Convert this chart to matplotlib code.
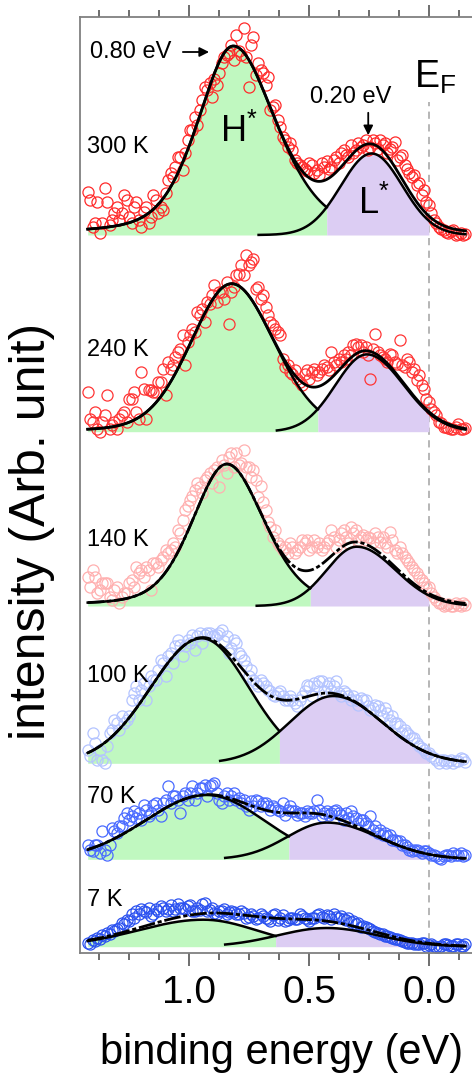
import numpy as np
import matplotlib
matplotlib.use('Agg')
import matplotlib.pyplot as plt
from matplotlib.ticker import MultipleLocator, FormatStrFormatter

plt.rcParams['font.family'] = ['Liberation Sans', 'DejaVu Sans']
plt.rcParams['mathtext.fontset'] = 'custom'
plt.rcParams['mathtext.rm'] = 'Liberation Sans'
plt.rcParams['mathtext.it'] = 'Liberation Sans'

#%% data (heights above each spectrum's own baseline)
temps = ['300 K', '240 K', '140 K', '100 K', '70 K', '7 K']
marker_colors = ['#ff2a2a', '#ff3535', '#ffb0b0', '#b4c4ff', '#4a6bff', '#2c52f0']
baseline = [718, 521.3, 347, 189.7, 93.7, 6.3]  #vertical offset of each spectrum
label_y = [806, 603, 413, 277, 156, 53]

energy = np.linspace(1.42, -0.14, 78)  #binding energy of the measured points, scan a
energy_b = np.linspace(1.41, -0.15, 78)  #scan b

a_300 = [43, 8, 33, 12, 33, 15, 28, 22, 35, 12, 33, 8, 28, 18, 35, 28, 42, 62, 68, 78,
         82, 105, 118, 125, 148, 152, 156, 162, 178, 182, 175, 184, 207, 148, 198, 172, 162, 158, 128, 115,
         98, 88, 85, 72, 68, 64, 70, 65, 72, 74, 68, 78, 82, 80, 90, 85, 88, 95, 88, 92,
         95, 92, 86, 93, 78, 70, 62, 60, 52, 45, 30, 15, 8, 5, 2, 5, 1, 0]
b_300 = [35, 12, 2, 47, 10, 22, 15, 40, 18, 28, 15, 23, 12, 40, 22, 25, 55, 58, 78, 65,
         95, 105, 110, 135, 145, 138, 150, 172, 180, 190, 200, 180, 178, 190, 160, 165, 150, 125, 130, 108,
         95, 92, 75, 70, 66, 72, 62, 60, 68, 66, 75, 72, 85, 78, 82, 92, 90, 85, 95, 86,
         90, 82, 88, 75, 80, 66, 58, 50, 40, 33, 22, 12, 6, 3, 4, 0, 2, 1]
a_240 = [40, 10, 3, 10, 37, 7, 3, 17, 10, 33, 20, 60, 13, 42, 40, 50, 37, 63, 75, 83,
         67, 97, 100, 117, 110, 128, 147, 140, 133, 108, 145, 158, 157, 167, 173, 145, 137, 117, 107, 100,
         73, 67, 58, 53, 47, 62, 60, 57, 63, 65, 80, 67, 70, 73, 77, 88, 87, 85, 53, 98,
         77, 73, 78, 70, 92, 65, 70, 63, 57, 43, 30, 20, 10, 5, 4, 3, 8, 3]
b_240 = [13, 20, 0, 17, 3, 10, 13, 20, 33, 40, 13, 43, 42, 40, 50, 63, 70, 67, 80, 97,
         90, 103, 120, 123, 130, 137, 130, 140, 150, 140, 157, 167, 177, 170, 143, 133, 125, 110, 103, 97,
         65, 60, 62, 50, 58, 53, 63, 60, 67, 62, 70, 73, 77, 80, 87, 85, 80, 77, 83, 80,
         75, 70, 77, 68, 67, 73, 60, 52, 47, 33, 23, 17, 9, 5, 3, 5, 3, 4]
a_140 = [29, 36, 13, 23, 23, 6, 19, 9, 13, 26, 39, 36, 39, 16, 43, 46, 56, 56, 59, 73,
         96, 106, 116, 119, 126, 133, 136, 119, 141, 149, 139, 141, 156, 139, 136, 109, 104, 84, 69, 63,
         56, 53, 59, 56, 66, 66, 59, 59, 56, 63, 76, 59, 73, 69, 79, 76, 69, 66, 68, 73,
         64, 63, 74, 56, 59, 49, 43, 36, 29, 23, 19, 9, 3, 0, 2, 0, 1, 3]
b_140 = [19, 29, 16, 23, 9, 16, 3, 13, 23, 19, 33, 29, 36, 43, 39, 49, 53, 63, 76, 86,
         100, 110, 123, 113, 129, 123, 139, 146, 133, 153, 153, 143, 139, 129, 126, 120, 96, 79, 76, 60,
         59, 63, 53, 59, 63, 56, 66, 63, 59, 66, 69, 66, 76, 63, 73, 66, 71, 69, 64, 69,
         69, 59, 66, 53, 53, 46, 39, 33, 26, 19, 13, 6, 3, 1, 0, 3, 0, 1]
a_100 = [13, 30, 3, 3, 17, 33, 40, 47, 43, 63, 77, 73, 63, 87, 83, 103, 87, 110, 117, 118,
         117, 120, 113, 130, 128, 130, 127, 130, 122, 110, 123, 110, 103, 87, 83, 77, 80, 73, 68, 70,
         67, 63, 63, 57, 67, 78, 67, 77, 82, 77, 72, 82, 67, 70, 63, 63, 65, 63, 53, 58,
         53, 55, 43, 40, 37, 33, 28, 25, 17, 13, 10, 5, 0, 3, 2, 0, 2, 4]
b_100 = [7, 20, 13, 0, 30, 43, 33, 40, 47, 70, 63, 80, 77, 83, 93, 100, 107, 100, 123, 107,
         123, 128, 127, 120, 130, 127, 128, 133, 127, 115, 120, 107, 97, 93, 80, 83, 77, 72, 67, 72,
         63, 67, 60, 63, 72, 77, 80, 82, 72, 80, 77, 70, 72, 67, 67, 58, 63, 57, 55, 57,
         47, 50, 47, 40, 30, 30, 25, 20, 15, 10, 7, 3, 3, 0, 3, 2, 5, 1]
a_70 = [14, 8, 14, 28, 4, 31, 26, 33, 46, 43, 41, 39, 49, 46, 56, 43, 59, 56, 63, 46,
        66, 66, 59, 71, 74, 73, 76, 59, 63, 59, 66, 61, 59, 49, 53, 58, 56, 53, 53, 49,
        56, 49, 48, 44, 46, 48, 46, 59, 43, 48, 46, 49, 44, 46, 48, 41, 39, 36, 43, 33,
        29, 26, 24, 19, 18, 14, 9, 9, 8, 8, 6, 4, 1, 3, 4, 6, 4, 3]
b_70 = [9, 14, 6, 9, 14, 28, 33, 41, 39, 48, 46, 54, 43, 54, 49, 56, 73, 63, 59, 63,
        59, 73, 66, 71, 63, 74, 66, 56, 66, 63, 59, 56, 53, 58, 59, 53, 56, 49, 51, 48,
        44, 53, 48, 46, 43, 46, 48, 49, 46, 44, 48, 46, 39, 41, 43, 36, 39, 33, 29, 26,
        24, 23, 19, 18, 14, 12, 8, 9, 6, 8, 4, 3, 0, 4, 3, 4, 6, 4]
a_7 = [4, 7, 9, 12, 14, 17, 18, 24, 27, 33, 36, 38, 35, 31, 38, 41, 36, 42, 38, 39,
       38, 42, 36, 37, 44, 37, 34, 36, 38, 35, 35, 33, 34, 30, 31, 29, 31, 28, 32, 27,
       32, 27, 29, 28, 31, 28, 29, 32, 30, 32, 28, 30, 31, 27, 25, 23, 20, 20, 18, 15,
       13, 11, 10, 8, 7, 5, 4, 3, 3, 4, 2, 1, 0, 3, 2, 1, 3, 1]
b_7 = [3, 6, 8, 11, 13, 16, 19, 23, 26, 29, 33, 36, 39, 33, 36, 39, 38, 36, 43, 39,
       41, 36, 39, 43, 36, 39, 33, 36, 33, 36, 33, 36, 29, 33, 28, 33, 29, 26, 33, 29,
       26, 29, 28, 33, 29, 26, 29, 33, 29, 31, 33, 29, 28, 29, 26, 24, 21, 19, 16, 14,
       13, 11, 9, 8, 6, 4, 4, 3, 4, 1, 3, 0, 1, 3, 1, 3, 1, 3]
scan_a = [a_300, a_240, a_140, a_100, a_70, a_7]
scan_b = [b_300, b_240, b_140, b_100, b_70, b_7]

#fit components: H* (high) and L* (low) peaks
h_center = [0.815, 0.822, 0.842, 0.946, 0.925, 0.939]
h_amp = [189, 148, 142, 125, 64.3, 27]
h_wl = [0.175, 0.20, 0.169, 0.25, 0.30, 0.32]
h_wr = [0.21, 0.21, 0.184, 0.231, 0.28, 0.26]
h_eta = [0.4, 0.15, 0.3, 0.0, 0.0, 0.0]
l_center = [0.24, 0.26, 0.302, 0.399, 0.426, 0.426]
l_amp = [81.5, 77.3, 59.3, 67.3, 36.7, 18.7]
l_wl = [0.15, 0.153, 0.147, 0.215, 0.195, 0.24]
l_wr = [0.15, 0.18, 0.19, 0.24, 0.25, 0.25]
l_start = [0.712, 0.635, 0.718, 0.87, 0.849, 0.849]
bg_amp = [0, 0, 0, 0, 0, 7]
dd = (0, (6, 1, 1.5, 1))
fit_style = ['-', '-', dd, dd, dd, dd]


def peak(E, c, a, wl, wr, eta):
    w = np.where(E > c, wl, wr)
    u = ((E - c) / w) ** 2
    return a * ((1 - eta) * np.exp(-np.log(2) * u) + eta / (1 + u))


#%% plot
fig = plt.figure(figsize=(4.72, 10.77), dpi=100)
ax = fig.add_axes([80 / 472, 1 - 953 / 1077, 409.5 / 472, 936 / 1077])
ax.set_xlim(1.452, -0.25)
ax.set_ylim(0, 936)

e_fit = np.linspace(1.42, -0.15, 600)
for k in range(len(temps)):
    b = baseline[k]
    H = peak(e_fit, h_center[k], h_amp[k], h_wl[k], h_wr[k], h_eta[k])
    L = peak(e_fit, l_center[k], l_amp[k], l_wl[k], l_wr[k], 0)
    bg = peak(e_fit, 0.7, bg_amp[k], 0.4, 0.4, 0)
    total = H + L + bg
    between = (e_fit < h_center[k]) & (e_fit > l_center[k])
    e_cross = e_fit[between][np.argmin(np.abs(H - L)[between])]
    top = np.maximum(H, L)

    ax.fill_between(e_fit, b, b + top, where=e_fit >= e_cross, color='#c0f8c0', lw=0, zorder=1)
    ax.fill_between(e_fit, b, b + top, where=(e_fit <= e_cross) & (e_fit >= 0), color='#dccdf3', lw=0, zorder=1)
    for xs, ys in [(energy, scan_a[k]), (energy_b, scan_b[k])]:
        ax.plot(xs, b + np.array(ys), 'o', mfc='none', mec=marker_colors[k], ms=8, mew=0.9, zorder=2)
    hm = e_fit >= e_cross
    ax.plot(e_fit[hm], b + H[hm], color='k', lw=1.8, zorder=3)
    lm = e_fit <= l_start[k]
    ax.plot(e_fit[lm], b + L[lm], color='k', lw=1.8, zorder=3)
    ax.plot(e_fit, b + total, color='k', lw=2, ls=fit_style[k], zorder=4)
    ax.text(1.421, label_y[k], temps[k], fontsize=17, va='center', zorder=5)

#Fermi level
ax.plot([0, 0], [0, 851], color='#b0b0b0', lw=1.3, ls=(0, (4, 3)), zorder=0)
ax.text(0.065, 876, r'$\mathregular{E_F}$', fontsize=27, va='center', ha='left')

#peak annotations
ax.text(1.41, 901, '0.80 eV', fontsize=17, va='center', ha='left')
ax.annotate('', xy=(0.904, 901), xytext=(1.036, 901),
            arrowprops=dict(arrowstyle='-|>', color='k', lw=1.3, mutation_scale=14))
ax.text(0.3275, 856, '0.20 eV', fontsize=17, va='center', ha='center')
ax.annotate('', xy=(0.254, 815), xytext=(0.254, 843),
            arrowprops=dict(arrowstyle='-|>', color='k', lw=1.3, mutation_scale=14))
ax.text(0.87, 821.5, r'H$^\mathregular{*}$', fontsize=26, va='center', ha='left', zorder=5)
ax.text(0.295, 749.5, r'L$^\mathregular{*}$', fontsize=26, va='center', ha='left', zorder=5)

#axes styling
for s in ['left', 'bottom', 'top']:
    ax.spines[s].set_color('#808080')
    ax.spines[s].set_linewidth(1.3)
ax.spines['right'].set_visible(False)
ax.set_yticks([])
ax.xaxis.set_major_locator(MultipleLocator(0.5))
ax.xaxis.set_minor_locator(MultipleLocator(0.125))
ax.xaxis.set_major_formatter(FormatStrFormatter('%.1f'))
ax.tick_params(axis='x', which='both', direction='out', top=True, bottom=True,
               colors='#555555', labelcolor='black', width=1.2)
ax.tick_params(axis='x', which='major', length=9, labelsize=28, pad=7)
ax.tick_params(axis='x', which='minor', length=4.7)

ax.set_xlabel('binding energy (eV)', fontsize=30)
ax.xaxis.set_label_coords(0.491, -0.0855)
ax.set_ylabel('intensity (Arb. unit)', fontsize=36)
ax.yaxis.set_label_coords(-0.06, 0.45)

fig.savefig('out.png', dpi=100)
